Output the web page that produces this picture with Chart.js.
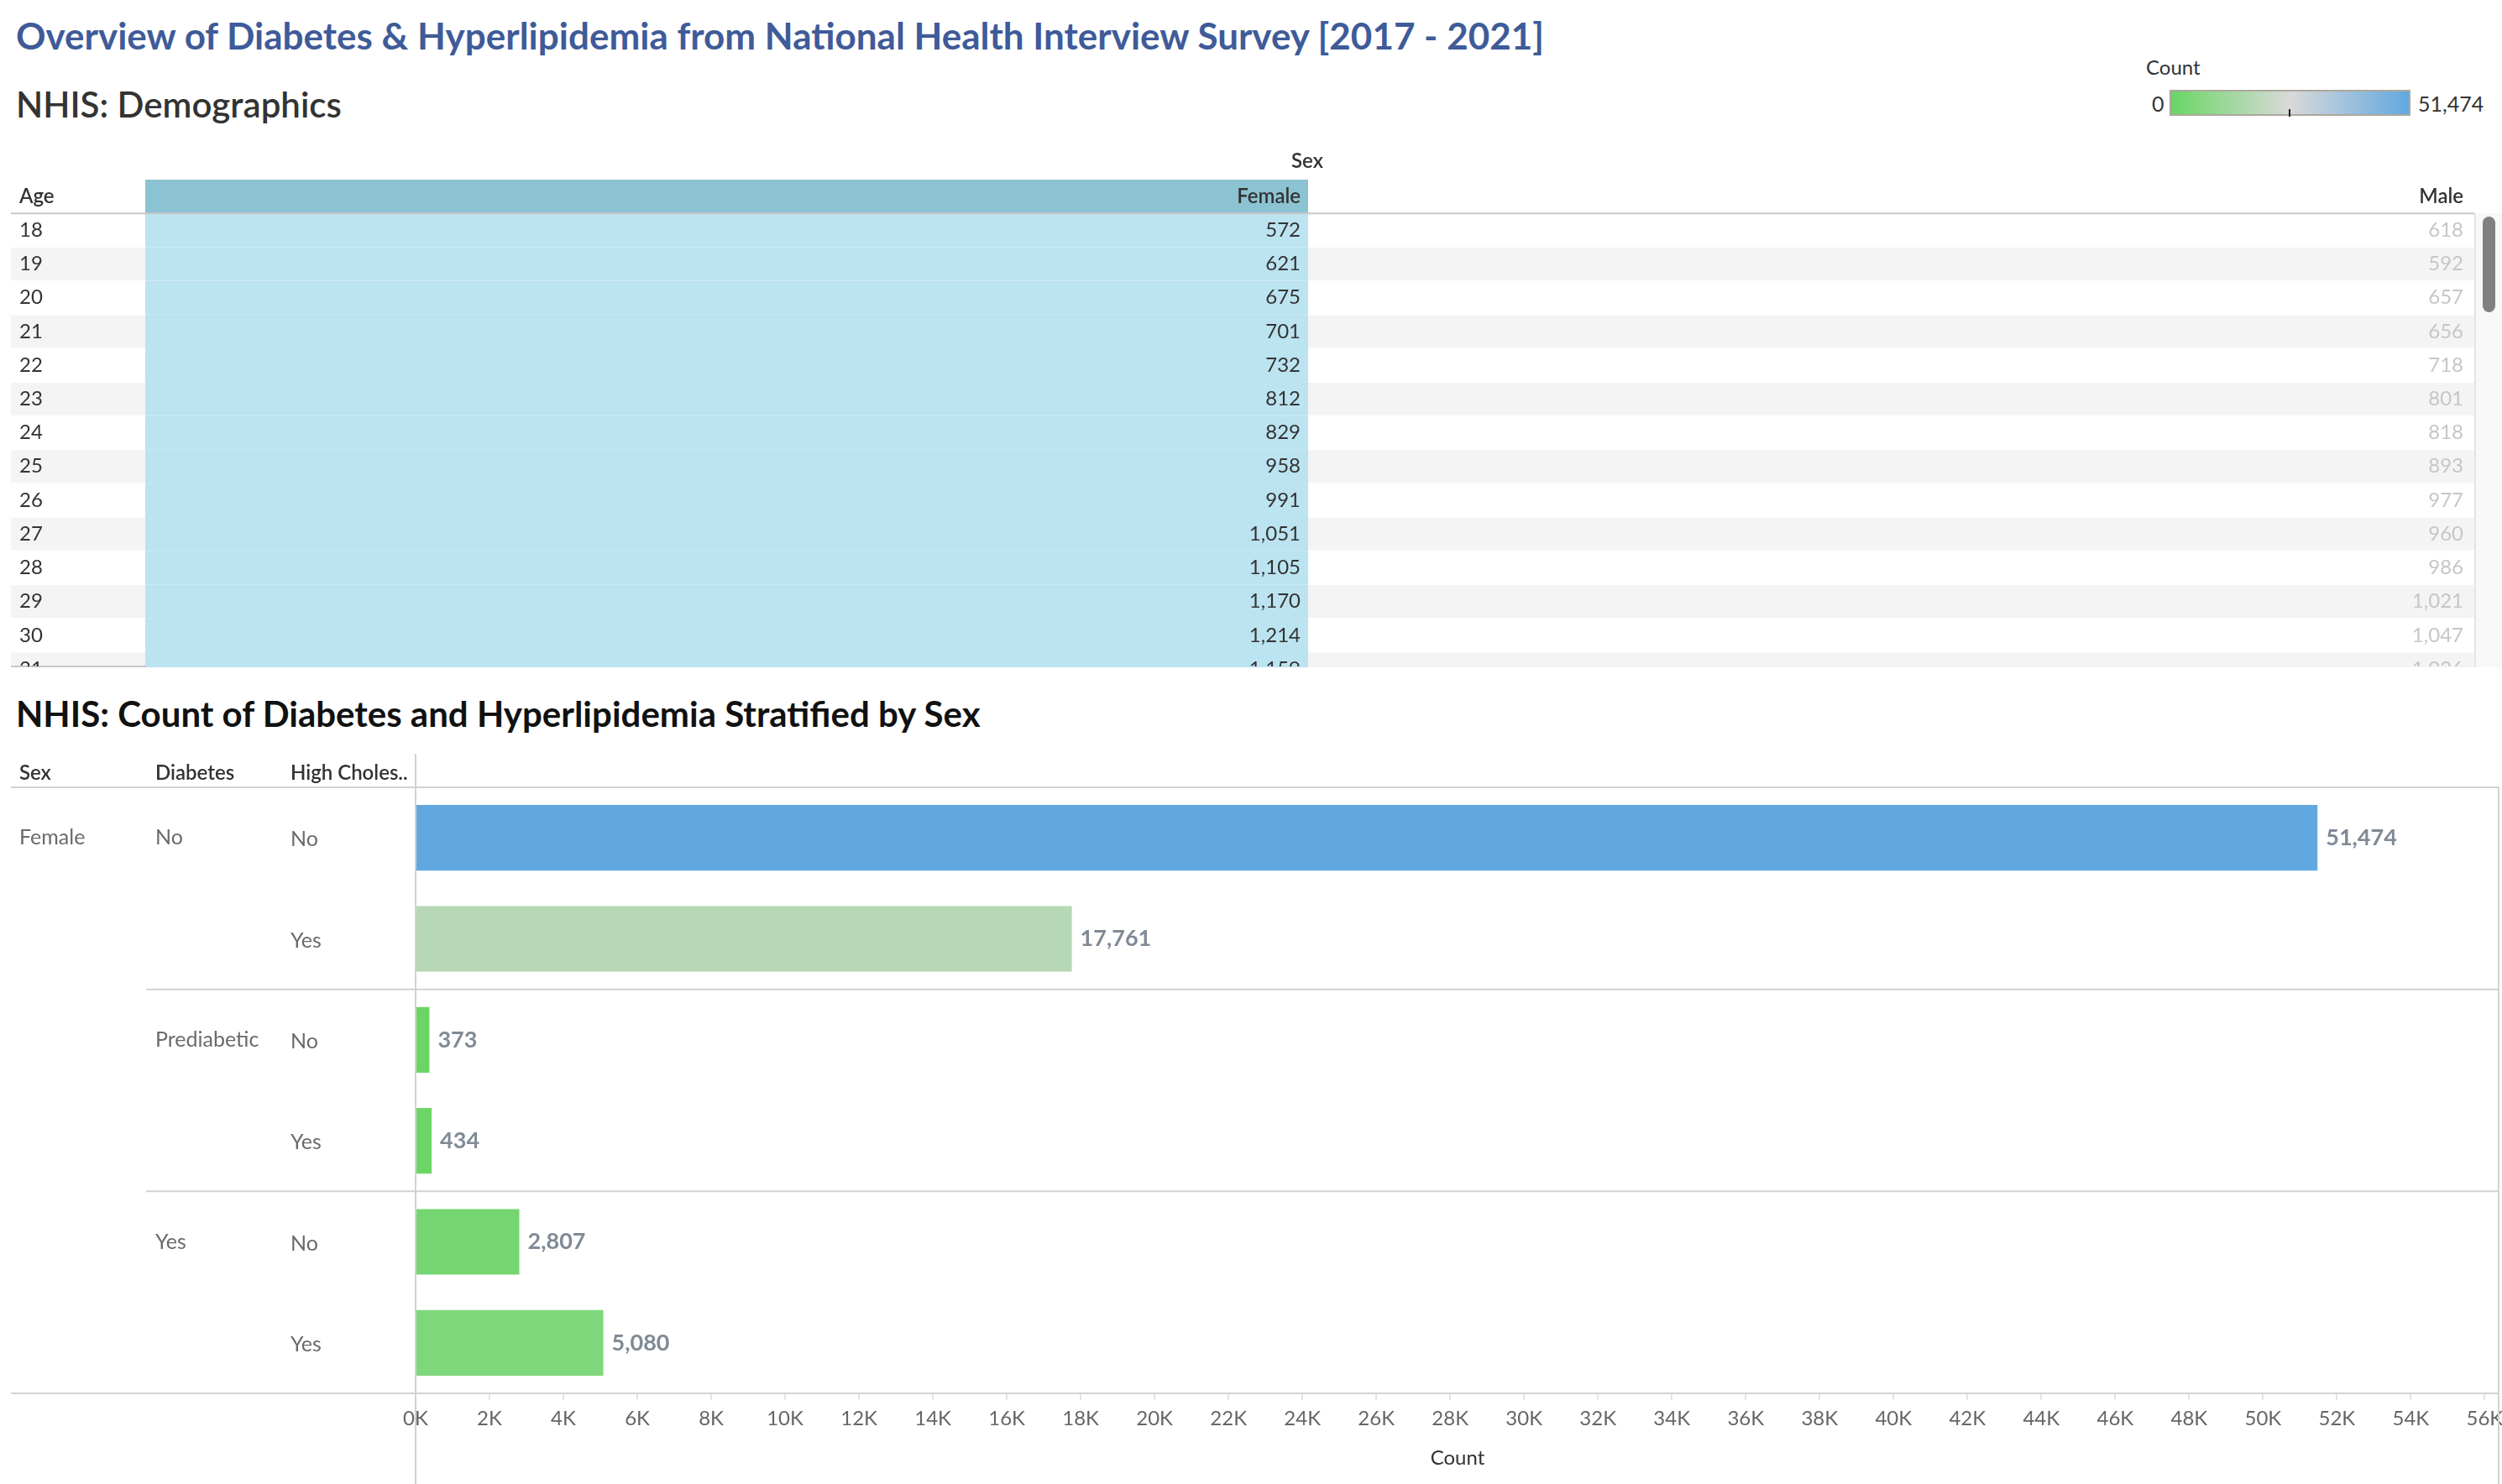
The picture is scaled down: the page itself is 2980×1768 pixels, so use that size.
<!DOCTYPE html>
<html>
<head>
<meta charset="utf-8">
<title>NHIS Diabetes & Hyperlipidemia</title>
<script src="https://cdn.jsdelivr.net/npm/chart.js@4.4.1/dist/chart.umd.min.js"></script>
<style>
html, body { margin: 0; padding: 0; background: #fff; }
body { width: 2980px; height: 1768px; position: relative; overflow: hidden; font-family: Lato, "Open Sans", sans-serif; }
.t { position: absolute; white-space: nowrap; transform: translateY(-50%); line-height: 1; }
canvas { position: absolute; left: 0; }
</style>
</head>
<body>
<div class="t" style="left:19px;top:42px;font-size:44px;font-weight:700;color:#3f5b99">Overview of Diabetes &amp; Hyperlipidemia from National Health Interview Survey [2017 - 2021]</div>
<div class="t" style="left:19px;top:124px;font-size:42px;font-weight:600;color:#333">NHIS: Demographics</div>

<!-- colour legend -->
<div class="t" style="left:2556px;top:80px;font-size:24px;color:#333">Count</div>
<div class="t" style="left:2563px;top:123px;font-size:25px;color:#333">0</div>
<div style="position:absolute;left:2584px;top:107px;width:283px;height:27px;border:2px solid #aca89c;background:linear-gradient(to right,#69d664,#d9d9d9 50%,#62a8e0)"></div>
<div style="position:absolute;left:2726px;top:130px;width:2px;height:9px;background:#222"></div>
<div class="t" style="left:2880px;top:123px;font-size:25px;color:#333">51,474</div>

<canvas id="tableChart" width="2980" height="630" style="top:170px"></canvas>
<!-- scrollbar -->
<div style="position:absolute;left:2947px;top:254px;width:31px;height:541px;background:#f8f8f8;border-left:2px solid #e4e4e4"></div>
<div style="position:absolute;left:2957px;top:258px;width:15px;height:114px;background:#808080;border-radius:8px"></div>

<div class="t" style="left:19px;top:850px;font-size:42px;font-weight:700;color:#111">NHIS: Count of Diabetes and Hyperlipidemia Stratified by Sex</div>
<canvas id="barChart" width="2980" height="888" style="top:880px"></canvas>

<script>
// ---- demographics table data ----
var ages = [18, 19, 20, 21, 22, 23, 24, 25, 26, 27, 28, 29, 30, 31];
var femaleCounts = [572, 621, 675, 701, 732, 812, 829, 958, 991, 1051, 1105, 1170, 1214, 1159];
var maleCounts = [618, 592, 657, 656, 718, 801, 818, 893, 977, 960, 986, 1021, 1047, 1036];

// ---- stratified counts data ----
var sexByRow = ['Female', 'Female', 'Female', 'Female', 'Female', 'Female'];
var diabetesByRow = ['No', 'No', 'Prediabetic', 'Prediabetic', 'Yes', 'Yes'];
var cholByRow = ['No', 'Yes', 'No', 'Yes', 'No', 'Yes'];
var counts = [51474, 17761, 373, 434, 2807, 5080];
var countMax = 51474;
var xTicks = [0, 2000, 4000, 6000, 8000, 10000, 12000, 14000, 16000, 18000, 20000, 22000, 24000, 26000,
    28000, 30000, 32000, 34000, 36000, 38000, 40000, 42000, 44000, 46000, 48000, 50000, 52000, 54000, 56000];

// layout of the text table (pixel positions of column edges)
var colEdges = [13, 174, 1557, 2947];
var headerRow = -1;

function fmt(n) { return n.toLocaleString('en-US'); }

// diverging green - grey - blue ramp like the legend
function rampColor(v) {
    var green = [105, 214, 100], grey = [217, 217, 217], blue = [98, 168, 224];
    var t = v / countMax, a, b;
    if (t <= 0.5) { a = green; b = grey; t = t * 2; } else { a = grey; b = blue; t = (t - 0.5) * 2; }
    var c = a.map(function(x, i) { return Math.round(x + (b[i] - x) * t); });
    return 'rgb(' + c.join(',') + ')';
}

function hline(ctx, x1, x2, y) { ctx.beginPath(); ctx.moveTo(x1, y); ctx.lineTo(x2, y); ctx.stroke(); }
function vline(ctx, x, y1, y2) { ctx.beginPath(); ctx.moveTo(x, y1); ctx.lineTo(x, y2); ctx.stroke(); }

// texts of the table, placed with the chart scales
var tableText = {
    id: 'tableText',
    afterDatasetsDraw: function(chart) {
        var ctx = chart.ctx, a = chart.chartArea, x = chart.scales.x, y = chart.scales.y;
        var hy = y.getPixelForValue(headerRow);
        var top = y.getPixelForValue(headerRow + 0.5);
        ctx.save();
        ctx.textBaseline = 'middle';
        ctx.font = '600 24px Lato';
        ctx.fillStyle = '#333';
        ctx.textAlign = 'left';
        ctx.fillText('Age', x.getPixelForValue(colEdges[0]) + 10, hy);
        ctx.textAlign = 'right';
        ctx.fillText('Female', x.getPixelForValue(colEdges[2]) - 8, hy);
        ctx.fillText('Male', x.getPixelForValue(colEdges[3]) - 13, hy);
        ctx.textAlign = 'center';
        ctx.fillText('Sex', x.getPixelForValue(colEdges[2]), hy - 42);

        ctx.strokeStyle = '#c8c8c8';
        ctx.lineWidth = 2;
        hline(ctx, x.getPixelForValue(colEdges[0]), x.getPixelForValue(colEdges[3]), top);
        hline(ctx, x.getPixelForValue(colEdges[0]), x.getPixelForValue(colEdges[1]), a.bottom - 1);

        ctx.beginPath();
        ctx.rect(a.left, top + 1, a.width, a.bottom - top - 2);
        ctx.clip();
        ctx.font = '24px Lato';
        ages.forEach(function(age, i) {
            var py = y.getPixelForValue(i);
            ctx.textAlign = 'left';
            ctx.fillStyle = '#333';
            ctx.fillText(String(age), x.getPixelForValue(colEdges[0]) + 10, py);
            ctx.textAlign = 'right';
            ctx.fillText(fmt(femaleCounts[i]), x.getPixelForValue(colEdges[2]) - 8, py);
            ctx.fillStyle = '#c6c6c6';
            ctx.fillText(fmt(maleCounts[i]), x.getPixelForValue(colEdges[3]) - 13, py);
        });
        ctx.restore();
    }
};

var femaleCells = [headerRow].concat(ages.map(function(a, i) { return i; })).map(function(r) {
    return { x: [colEdges[1], colEdges[2]], y: r };
});
var stripeCells = ages.map(function(a, i) { return { x: [colEdges[0], colEdges[3]], y: i }; });

new Chart(document.getElementById('tableChart'), {
    type: 'bar',
    data: {
        datasets: [{
            label: 'Female',
            data: femaleCells,
            backgroundColor: function(c) { return c.raw && c.raw.y === headerRow ? '#8cc3d3' : '#bbe3f0'; },
            grouped: false,
            inflateAmount: 1,
            order: 0
        }, {
            label: 'rows',
            data: stripeCells,
            backgroundColor: function(c) { return c.dataIndex % 2 ? '#f4f4f4' : '#ffffff'; },
            grouped: false,
            order: 1
        }]
    },
    options: {
        indexAxis: 'y',
        responsive: false,
        animation: false,
        layout: { padding: { left: 13, right: 33, top: 44, bottom: 5 } },
        datasets: { bar: { barPercentage: 1, categoryPercentage: 1, borderWidth: 0 } },
        plugins: { legend: { display: false }, tooltip: { enabled: false } },
        scales: {
            x: { type: 'linear', min: colEdges[0], max: colEdges[3], offset: false, display: false },
            y: { type: 'linear', min: -1.5, max: 12.95, reverse: true, offset: false, grace: 0, display: false }
        }
    },
    plugins: [tableText]
});

// frame, row headers and value labels of the bar chart
var labelCols = [23, 185, 346];
var barFrame = {
    id: 'barFrame',
    beforeDatasetsDraw: function(chart) {
        var ctx = chart.ctx, a = chart.chartArea, y = chart.scales.y;
        ctx.save();
        ctx.strokeStyle = '#d2d2d2';
        ctx.lineWidth = 2;
        hline(ctx, 13, a.right, a.top);
        for (var i = 1; i < counts.length; i++) {
            if (diabetesByRow[i] !== diabetesByRow[i - 1]) {
                hline(ctx, 174, a.right, (y.getPixelForValue(i - 1) + y.getPixelForValue(i)) / 2);
            }
        }
        hline(ctx, 13, a.right, a.bottom);
        vline(ctx, a.left, 18, chart.height);
        vline(ctx, a.right - 1, a.top, chart.height);
        ctx.restore();
    },
    afterDatasetsDraw: function(chart) {
        var ctx = chart.ctx, a = chart.chartArea, x = chart.scales.x, y = chart.scales.y;
        ctx.save();
        ctx.textBaseline = 'middle';
        ctx.textAlign = 'left';
        ctx.font = '600 24px Lato';
        ctx.fillStyle = '#333';
        ['Sex', 'Diabetes', 'High Choles..'].forEach(function(h, k) {
            ctx.fillText(h, labelCols[k], a.top - 17);
        });
        ctx.font = '25px Lato';
        ctx.fillStyle = '#6a6a6a';
        counts.forEach(function(v, i) {
            var py = y.getPixelForValue(i);
            if (i === 0 || sexByRow[i] !== sexByRow[i - 1]) ctx.fillText(sexByRow[i], labelCols[0], py);
            if (i === 0 || diabetesByRow[i] !== diabetesByRow[i - 1]) ctx.fillText(diabetesByRow[i], labelCols[1], py);
            ctx.fillText(cholByRow[i], labelCols[2], py + 2);
        });
        ctx.font = '700 27px Lato';
        ctx.fillStyle = '#7f8a96';
        counts.forEach(function(v, i) {
            ctx.fillText(fmt(v), x.getPixelForValue(v) + 10, y.getPixelForValue(i));
        });
        ctx.restore();
    }
};

new Chart(document.getElementById('barChart'), {
    type: 'bar',
    data: {
        labels: cholByRow,
        datasets: [{
            label: 'Count',
            data: counts,
            backgroundColor: counts.map(rampColor),
            barPercentage: 0.65,
            categoryPercentage: 1
        }]
    },
    options: {
        indexAxis: 'y',
        responsive: false,
        animation: false,
        layout: { padding: { left: 495, right: 3, top: 58, bottom: 0 } },
        plugins: { legend: { display: false }, tooltip: { enabled: false } },
        scales: {
            x: {
                type: 'linear',
                min: 0,
                max: 56400,
                afterBuildTicks: function(s) { s.ticks = xTicks.map(function(v) { return { value: v }; }); },
                afterFit: function(s) { s.height = 108; s.paddingLeft = 0; s.paddingRight = 0; },
                border: { display: false },
                grid: { drawOnChartArea: false, tickLength: 8, color: '#e4e4e4', lineWidth: 2 },
                ticks: {
                    padding: 8,
                    color: '#666',
                    font: { family: 'Lato', size: 24 },
                    maxRotation: 0,
                    autoSkip: false,
                    callback: function(v) { return (v / 1000) + 'K'; }
                },
                title: { display: true, text: 'Count', color: '#333', font: { family: 'Lato', size: 24 }, padding: { top: 0, bottom: 16 } }
            },
            y: { type: 'category', display: false }
        }
    },
    plugins: [barFrame]
});
</script>
</body>
</html>
